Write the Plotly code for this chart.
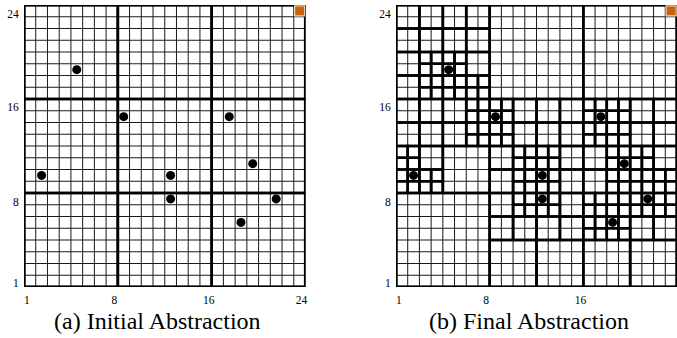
import plotly.graph_objects as go

# ---------------- data ----------------
N_CELLS = 24
tick_text = ["1", "8", "16", "24"]
x_tick_pos = [0.25, 7.7, 15.75, 23.65]
y_tick_pos = [0.32, 7.25, 15.35, 23.2]

obstacle_x = [4, 8, 17, 1, 12, 19, 12, 21, 18]
obstacle_y = [18, 14, 14, 9, 9, 10, 7, 7, 5]
goal_x = [23]
goal_y = [23]

captions = ["(a) Initial Abstraction", "(b) Final Abstraction"]

COARSE = 8
# Final abstraction (quadtree): 8x8 blocks split into 4x4 (lower-left corners)
split8 = [(0, 16), (0, 8), (8, 8), (16, 8), (8, 0), (16, 0)]
# 4x4 blocks kept whole inside split 8x8 blocks
keep4 = [(4, 8), (8, 0), (12, 0), (16, 0), (20, 0)]
# 2x2 blocks split into single cells
split2 = [(2, 16), (4, 16), (6, 16), (2, 18), (4, 18),
          (6, 12), (6, 14), (0, 8), (2, 8), (0, 10),
          (8, 12), (8, 14), (10, 8), (10, 10), (12, 8), (12, 10),
          (10, 6), (12, 6),
          (16, 12), (16, 14), (18, 12), (18, 14), (18, 8), (20, 8),
          (18, 10), (20, 10), (22, 8),
          (20, 6), (22, 6), (16, 4), (18, 4), (16, 6), (18, 6)]

SERIF = "Times New Roman, Liberation Serif, DejaVu Serif, serif"


# ---------------- geometry helpers ----------------
def initial_leaves():
    return [(i, j, COARSE) for i in range(0, N_CELLS, COARSE)
            for j in range(0, N_CELLS, COARSE)]


def final_leaves():
    leaves = []
    for i in range(0, N_CELLS, 8):
        for j in range(0, N_CELLS, 8):
            if (i, j) not in split8:
                leaves.append((i, j, 8))
                continue
            for a in (i, i + 4):
                for b in (j, j + 4):
                    if (a, b) in keep4:
                        leaves.append((a, b, 4))
                        continue
                    for c in (a, a + 2):
                        for d in (b, b + 2):
                            if (c, d) in split2:
                                for e in (c, c + 1):
                                    for f in (d, d + 1):
                                        leaves.append((e, f, 1))
                            else:
                                leaves.append((c, d, 2))
    return leaves


def outline(leaves):
    xs, ys = [], []
    for (x0, y0, s) in leaves:
        xs += [x0, x0 + s, x0 + s, x0, x0, None]
        ys += [y0, y0, y0 + s, y0 + s, y0, None]
    return xs, ys


def thin_grid():
    xs, ys = [], []
    for k in range(1, N_CELLS):
        xs += [k, k, None, 0, N_CELLS, None]
        ys += [0, N_CELLS, None, k, k, None]
    return xs, ys


fig = go.Figure()
panels = [("x", "y", initial_leaves()), ("x2", "y2", final_leaves())]
for xa, ya, leaves in panels:
    gx, gy = thin_grid()
    fig.add_trace(go.Scatter(x=gx, y=gy, mode="lines", xaxis=xa, yaxis=ya,
                             line=dict(color="#1a1a1a", width=1),
                             hoverinfo="skip", showlegend=False))
    bx, by = outline(leaves)
    fig.add_trace(go.Scatter(x=bx, y=by, mode="lines", xaxis=xa, yaxis=ya,
                             line=dict(color="black", width=2.6),
                             hoverinfo="skip", showlegend=False))
    fx, fy = outline([(0, 0, N_CELLS)])
    fig.add_trace(go.Scatter(x=fx, y=fy, mode="lines", xaxis=xa, yaxis=ya,
                             line=dict(color="black", width=3.2),
                             hoverinfo="skip", showlegend=False))
    fig.add_trace(go.Scatter(x=[v + 0.5 for v in obstacle_x],
                             y=[v + 0.5 for v in obstacle_y],
                             mode="markers", xaxis=xa, yaxis=ya,
                             marker=dict(color="black", size=9),
                             hoverinfo="skip", showlegend=False))
    fig.add_trace(go.Scatter(x=[v + 0.5 for v in goal_x],
                             y=[v + 0.5 for v in goal_y],
                             mode="markers", xaxis=xa, yaxis=ya,
                             marker=dict(color="#c8620a", size=10, symbol="square",
                                         line=dict(color="#ecd2b4", width=1.2)),
                             hoverinfo="skip", showlegend=False))

W, H = 677, 338
ydom = [(H - 287) / H, (H - 5) / H]
axis_common = dict(range=[0, N_CELLS], showgrid=False, zeroline=False,
                   showline=False, ticks="outside", ticklen=2,
                   tickcolor="rgba(0,0,0,0)", fixedrange=True, automargin=False,
                   tickfont=dict(family=SERIF, size=11.5, color="black"))
fig.update_layout(
    width=W, height=H, margin=dict(l=0, r=0, t=0, b=0),
    paper_bgcolor="white", plot_bgcolor="white",
    font=dict(family=SERIF, color="black"),
    xaxis=dict(domain=[24 / W, 305.5 / W], anchor="y",
               tickvals=x_tick_pos, ticktext=tick_text, **axis_common),
    yaxis=dict(domain=ydom, anchor="x",
               tickvals=y_tick_pos, ticktext=tick_text, **axis_common),
    xaxis2=dict(domain=[396 / W, 1.0], anchor="y2",
                tickvals=x_tick_pos, ticktext=tick_text, **axis_common),
    yaxis2=dict(domain=ydom, anchor="x2",
                tickvals=y_tick_pos, ticktext=tick_text, **axis_common),
    annotations=[
        dict(text=captions[0], x=157.5 / W, y=(H - 321) / H, xref="paper", yref="paper",
             showarrow=False, xanchor="center", yanchor="middle",
             font=dict(family=SERIF, size=24, color="black")),
        dict(text=captions[1], x=529 / W, y=(H - 321) / H, xref="paper", yref="paper",
             showarrow=False, xanchor="center", yanchor="middle",
             font=dict(family=SERIF, size=24, color="black")),
    ],
)

fig.write_html("out.html", config={"displayModeBar": False},
               post_script="document.body.style.margin='0';document.body.style.overflow='hidden';")
